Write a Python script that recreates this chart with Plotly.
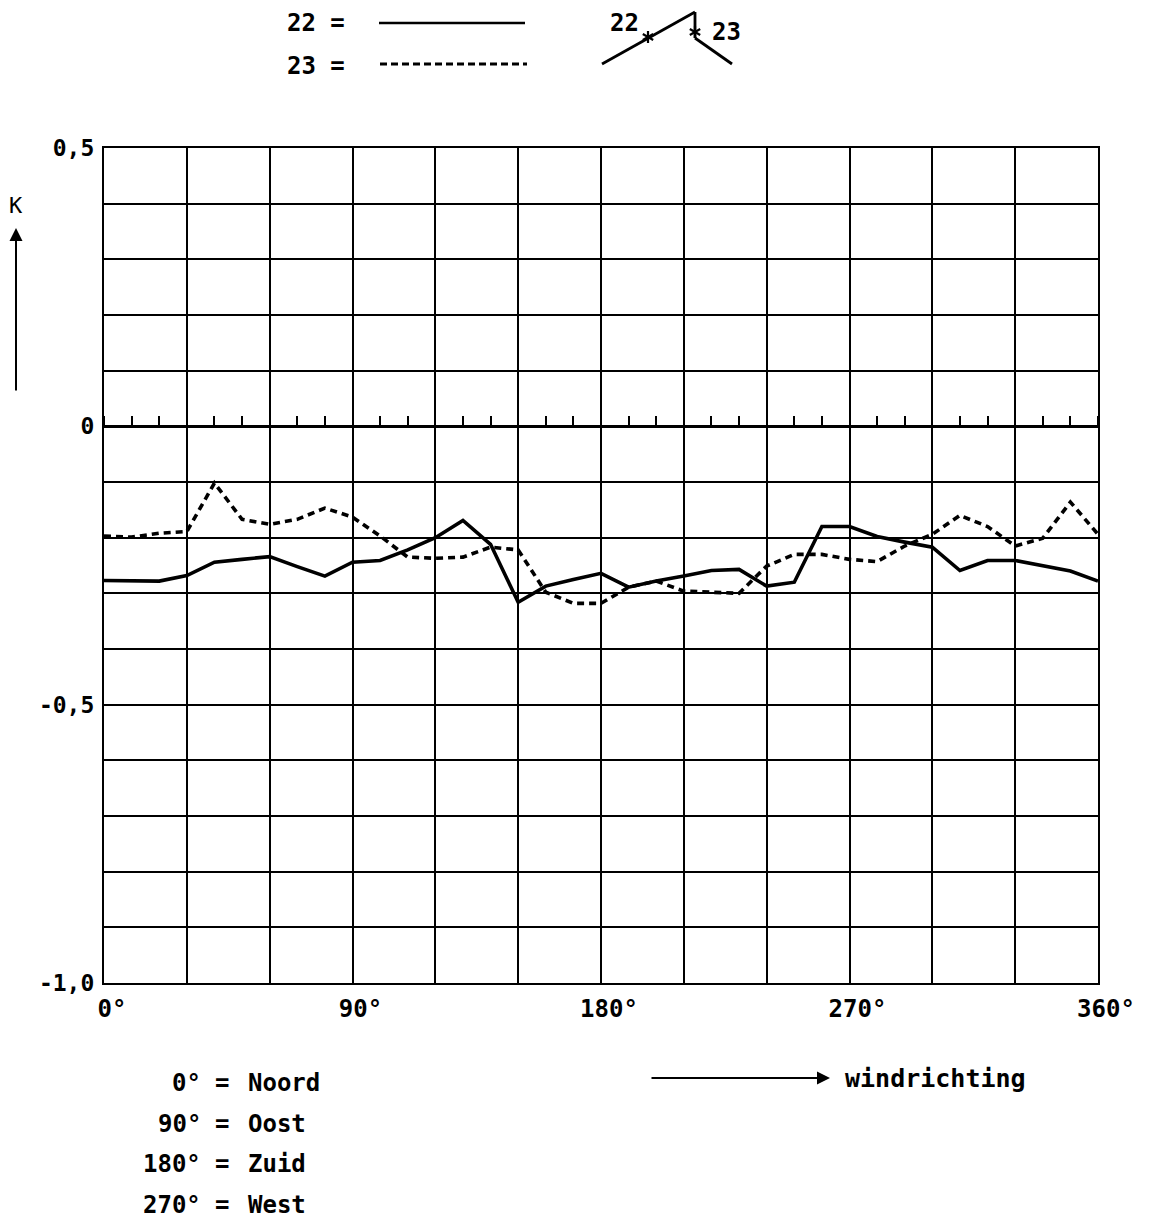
import math
import plotly.graph_objects as go

# ---- data ----
angles = [0, 10, 20, 30, 40, 50, 60, 70, 80, 90, 100, 110, 120, 130, 140, 150, 160, 170, 180,
          190, 200, 210, 220, 230, 240, 250, 260, 270, 280, 290, 300, 310, 320, 330, 340, 350, 360]
k22 = [-0.277, -0.277, -0.278, -0.268, -0.244, -0.239, -0.234, -0.252, -0.269, -0.244, -0.241,
       -0.222, -0.200, -0.169, -0.212, -0.316, -0.287, -0.275, -0.264,
       -0.289, -0.278, -0.269, -0.259, -0.257, -0.287, -0.280, -0.180, -0.180, -0.198, -0.208,
       -0.217, -0.259, -0.241, -0.241, -0.250, -0.260, -0.278]
k23 = [-0.197, -0.199, -0.192, -0.189, -0.102, -0.167, -0.176, -0.167, -0.147, -0.163, -0.197,
       -0.235, -0.237, -0.235, -0.217, -0.222, -0.298, -0.318, -0.318,
       -0.289, -0.278, -0.296, -0.298, -0.300, -0.251, -0.230, -0.230, -0.239, -0.243, -0.215,
       -0.194, -0.160, -0.180, -0.215, -0.201, -0.136, -0.194]

x_grid = list(range(0, 361, 30))
x_text = {0: "0°", 90: "90°", 180: "180°", 270: "270°", 360: "360°"}
y_grid = [round(-1.0 + 0.1 * i, 1) for i in range(16)]
y_text = {0.5: "0,5", 0.0: "0", -0.5: "-0,5", -1.0: "-1,0"}
bottom_degrees = ["0°", "90°", "180°", "270°"]
bottom_names = ["Noord", "Oost", "Zuid", "West"]

# page offset of the plotly div (body margin)
OFF = 8
W, H = 1152 - OFF, 1222 - OFF
# wanted plot area in page pixels: x 104..1098, y 148..983
L, T = 104 - OFF, 148 - OFF
R = W - (1098 - OFF)
B = H - (983 - OFF)
PW, PH = W - L - R, H - T - B

def px(x):
    return (x - OFF - L) / PW

def py(y):
    return (H - B - (y - OFF)) / PH

FONT = "DejaVu Sans Mono"

def f(size):
    return dict(family=FONT, size=size, color="black", weight="bold")

fig = go.Figure()
fig.add_trace(go.Scatter(x=angles, y=k22, mode="lines", name="22",
                         line=dict(color="black", width=3.6), showlegend=False))
fig.add_trace(go.Scatter(x=angles, y=k23, mode="lines", name="23",
                         line=dict(color="black", width=3.6, dash="7px,5px"), showlegend=False))

fig.update_layout(
    width=W, height=H,
    margin=dict(l=L, r=R, t=T, b=B, pad=0),
    paper_bgcolor="white", plot_bgcolor="white",
    font=f(24),
    xaxis=dict(range=[0, 360], tickvals=x_grid,
               ticktext=[x_text.get(v, "") for v in x_grid],
               showgrid=True, gridcolor="black", gridwidth=1.6,
               showline=True, linecolor="black", linewidth=2.2, mirror=True,
               ticks="", zeroline=False, tickfont=f(24), ticklabelstandoff=3,
               ticklabelshift=8),
    xaxis2=dict(range=[0, 360], overlaying="x", side="top", anchor="free",
                position=1 / 1.5, dtick=10, tick0=0, ticks="outside", ticklen=10,
                tickwidth=1.6, tickcolor="black", showticklabels=False,
                showgrid=False, showline=False, zeroline=False),
    yaxis=dict(range=[-1.0, 0.5], tickvals=y_grid,
               ticktext=[y_text.get(v, "") for v in y_grid],
               showgrid=True, gridcolor="black", gridwidth=1.6,
               showline=True, linecolor="black", linewidth=2.2, mirror=True,
               zeroline=True, zerolinecolor="black", zerolinewidth=3.2,
               ticks="", tickfont=f(23), ticklabelstandoff=3),
)
# invisible trace to activate xaxis2 (the small ticks on the zero line)
fig.add_trace(go.Scatter(x=[0, 360], y=[0, 0], xaxis="x2", mode="lines",
                         line=dict(width=0), hoverinfo="skip", showlegend=False))

shapes = []
def seg(a, b, c, d, w=2.5, dash=None):
    ln = dict(color="black", width=w)
    if dash:
        ln["dash"] = dash
    shapes.append(dict(type="line", xref="paper", yref="paper", x0=px(a), y0=py(b),
                       x1=px(c), y1=py(d), line=ln))

# legend lines
seg(379, 23, 525, 23, 2.5)
seg(380, 64, 527, 64, 3, "7px,4px")
# small roof sketch
seg(602, 64, 695, 12, 2.8)
seg(695, 12, 695, 38, 2.8)
seg(695, 38, 732, 64, 2.8)
# asterisks marking points 22 and 23
for (cx, cy) in [(648, 37), (695, 32)]:
    for ang in (90, 30, 150):
        dx = 6 * math.cos(math.radians(ang))
        dy = 6 * math.sin(math.radians(ang))
        seg(cx - dx, cy - dy, cx + dx, cy + dy, 2.2)
fig.update_layout(shapes=shapes)

ann = []
def text(x, y, s, xanchor="center", size=24, weight="bold"):
    ann.append(dict(x=px(x), y=py(y), xref="paper", yref="paper", text=s, showarrow=False,
                    xanchor=xanchor, yanchor="middle",
                    font=dict(family=FONT, size=size, color="black", weight=weight)))

text(347, 23, "22 =", "right")
text(347, 66, "23 =", "right")
text(624, 23, "22")
text(710, 32, "23", "left")
text(16, 206, "K", size=22, weight="normal")
text(843, 1078, "windrichting", "left", size=25)
for i, (dg, nm) in enumerate(zip(bottom_degrees, bottom_names)):
    yy = 1083 + i * 40.7
    text(203, yy, dg, "right")
    text(222, yy, "=")
    text(246, yy, nm, "left")

# arrows
ann.append(dict(x=px(16), y=py(228), xref="paper", yref="paper", text="", showarrow=True,
                ax=0, ay=164, arrowhead=2, arrowsize=1.3, arrowwidth=2, arrowcolor="black"))
ann.append(dict(x=px(830), y=py(1078), xref="paper", yref="paper", text="", showarrow=True,
                ax=-180, ay=0, arrowhead=2, arrowsize=1.3, arrowwidth=2, arrowcolor="black"))
fig.update_layout(annotations=ann)

fig.write_html("out.html")
